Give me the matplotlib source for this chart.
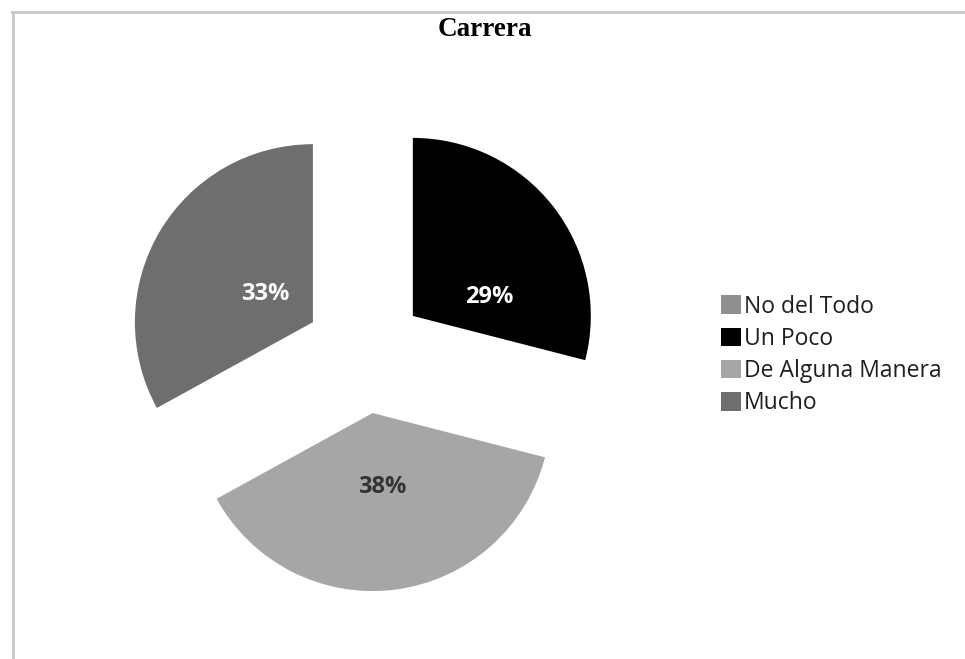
import numpy as np
import matplotlib.pyplot as plt
from matplotlib.lines import Line2D
from matplotlib.patches import Patch

categories = ["No del Todo", "Un Poco", "De Alguna Manera", "Mucho"]
values = [0, 29, 38, 33]
colors = ["#8f8f8f", "#000000", "#a6a6a6", "#6e6e6e"]
label_colors = ["#ffffff", "#ffffff", "#333333", "#ffffff"]

W, H = 965, 659
fig = plt.figure(figsize=(W / 100, H / 100), dpi=100)
fig.patch.set_facecolor("white")

# pie centre and radius in pixels
cx, cy, r = 365, 353, 178
ax = fig.add_axes([0, 0, 1, 1])

wedges, texts, autotexts = ax.pie(
    values, colors=colors, startangle=90, counterclock=False,
    explode=[0.34] * 4, radius=1,
    autopct=lambda p: f"{p:.0f}%" if p > 0 else "",
    pctdistance=0.45,
    wedgeprops=dict(linewidth=0),
    textprops=dict(fontsize=17, family="Open Sans", fontweight="bold"),
)

# excel-like label placement: distance from wedge tip and small angle shift
label_dist = [0.4, 0.44, 0.42, 0.31]
label_shift = [0, -24, 0, 0]
for w, t, c, d, s in zip(wedges, autotexts, label_colors, label_dist, label_shift):
    t.set_color(c)
    ang = np.deg2rad((w.theta1 + w.theta2) / 2 + s)
    x0, y0 = w.center
    t.set_position((x0 + d * np.cos(ang), y0 + d * np.sin(ang)))

ax.set_xlim(-cx / r, (W - cx) / r)
ax.set_ylim(-(H - cy) / r, cy / r)
ax.axis("off")

fig.text(0.502, 1 - 29 / H, "Carrera", ha="center", va="center",
         fontsize=19.5, fontweight="bold", family="Liberation Serif")

handles = [Patch(facecolor=c, edgecolor="none") for c in colors]
fig.legend(handles, categories, loc="center left",
           bbox_to_anchor=(712 / W, 1 - 355 / H), frameon=False,
           borderaxespad=0,
           prop=dict(family="Open Sans", size=16.5),
           handlelength=0.87, handleheight=0.87, handletextpad=0.12,
           labelspacing=0.36, labelcolor="#1e1e1e")

# frame lines of the original screenshot
fig.add_artist(Line2D([12 / W, 1], [1 - 12 / H] * 2, color="#c8c8c8", lw=2))
fig.add_artist(Line2D([13 / W] * 2, [0, 1 - 12 / H], color="#c8c8c8", lw=2))

fig.savefig("out.png", dpi=100)
